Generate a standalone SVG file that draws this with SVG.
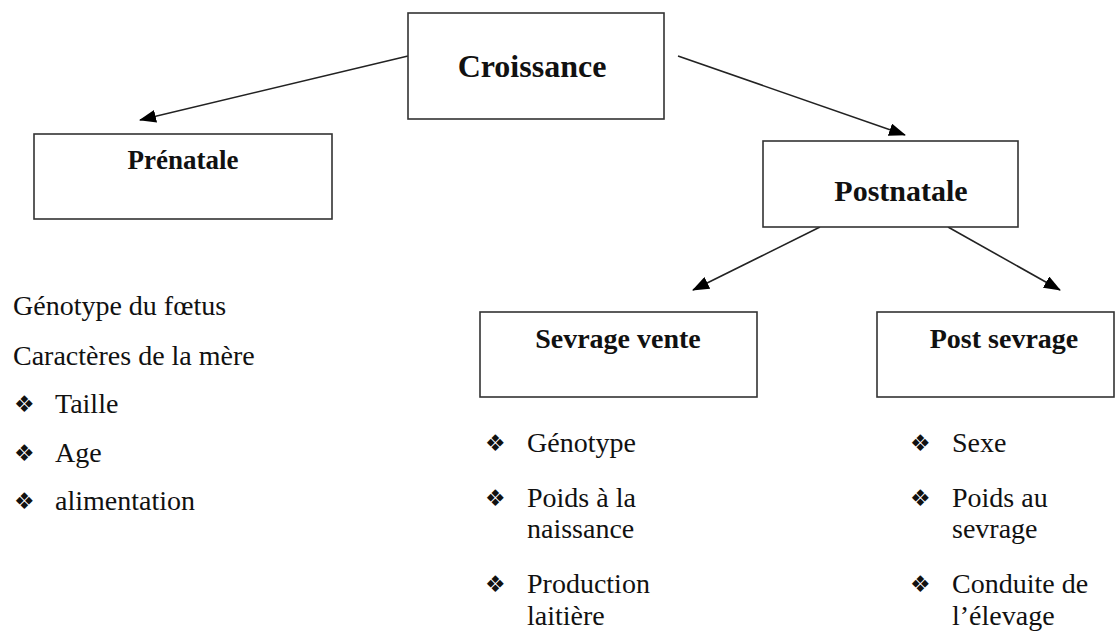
<svg xmlns="http://www.w3.org/2000/svg" width="1119" height="633" viewBox="0 0 1119 633">
  <style>
    .box { fill: #ffffff; stroke: #333333; stroke-width: 1.6; }
    .link { stroke: #222222; stroke-width: 1.6; fill: none; marker-end: url(#arrow); }
  </style>
  <defs>
    <marker id="arrow" markerWidth="17" markerHeight="13" refX="16" refY="6.5" orient="auto" markerUnits="userSpaceOnUse">
      <path d="M0,0 L17,6.5 L0,13 Z" fill="#000000"/>
    </marker>
  </defs>
  <rect width="1119" height="633" fill="#ffffff"/>

  <g id="connectors">
    <line class="link" x1="408" y1="56" x2="140" y2="120"/>
    <line class="link" x1="678" y1="56" x2="905" y2="135"/>
    <line class="link" x1="820" y1="227" x2="693" y2="290"/>
    <line class="link" x1="948" y1="227" x2="1060" y2="290"/>
  </g>

  <!-- box titles: bold serif -->
  <g font-family="Liberation Serif, Times New Roman, Times, serif" font-weight="bold" fill="#111111" text-anchor="middle">
    <g id="croissance">
      <rect class="box" x="408" y="13" width="256" height="106"/>
      <text x="532" y="77" font-size="32">Croissance</text>
    </g>
    <g id="prenatale">
      <rect class="box" x="34" y="134" width="298" height="85"/>
      <text x="183" y="169" font-size="27">Prénatale</text>
    </g>
    <g id="postnatale">
      <rect class="box" x="763" y="141" width="255" height="86"/>
      <text x="901" y="201" font-size="30">Postnatale</text>
    </g>
    <g id="sevrage-vente">
      <rect class="box" x="480" y="312" width="277" height="85"/>
      <text x="618" y="348" font-size="28">Sevrage vente</text>
    </g>
    <g id="post-sevrage">
      <rect class="box" x="877" y="312" width="237" height="85"/>
      <text x="1004" y="348" font-size="28">Post sevrage</text>
    </g>
  </g>

  <!-- factor lists: regular serif text, bullet glyphs from DejaVu Sans -->
  <g font-family="Liberation Serif, Times New Roman, Times, serif" font-size="28" fill="#111111">
    <g id="prenatale-factors">
      <text x="13" y="315">Génotype du fœtus</text>
      <text x="13" y="365">Caractères de la mère</text>
      <text x="14" y="412" font-family="DejaVu Sans, sans-serif" font-size="23">❖</text>
      <text x="55" y="413">Taille</text>
      <text x="14" y="461" font-family="DejaVu Sans, sans-serif" font-size="23">❖</text>
      <text x="55" y="462">Age</text>
      <text x="14" y="509" font-family="DejaVu Sans, sans-serif" font-size="23">❖</text>
      <text x="55" y="510">alimentation</text>
    </g>
    <g id="sevrage-vente-factors">
      <text x="485" y="451" font-family="DejaVu Sans, sans-serif" font-size="23">❖</text>
      <text x="527" y="452">Génotype</text>
      <text x="485" y="506" font-family="DejaVu Sans, sans-serif" font-size="23">❖</text>
      <text x="527" y="507">Poids à la</text>
      <text x="527" y="538">naissance</text>
      <text x="485" y="592" font-family="DejaVu Sans, sans-serif" font-size="23">❖</text>
      <text x="527" y="593">Production</text>
      <text x="527" y="625">laitière</text>
    </g>
    <g id="post-sevrage-factors">
      <text x="910" y="451" font-family="DejaVu Sans, sans-serif" font-size="23">❖</text>
      <text x="952" y="452">Sexe</text>
      <text x="910" y="506" font-family="DejaVu Sans, sans-serif" font-size="23">❖</text>
      <text x="952" y="507">Poids au</text>
      <text x="952" y="538">sevrage</text>
      <text x="910" y="592" font-family="DejaVu Sans, sans-serif" font-size="23">❖</text>
      <text x="952" y="593">Conduite de</text>
      <text x="952" y="625">l’élevage</text>
    </g>
  </g>
</svg>
